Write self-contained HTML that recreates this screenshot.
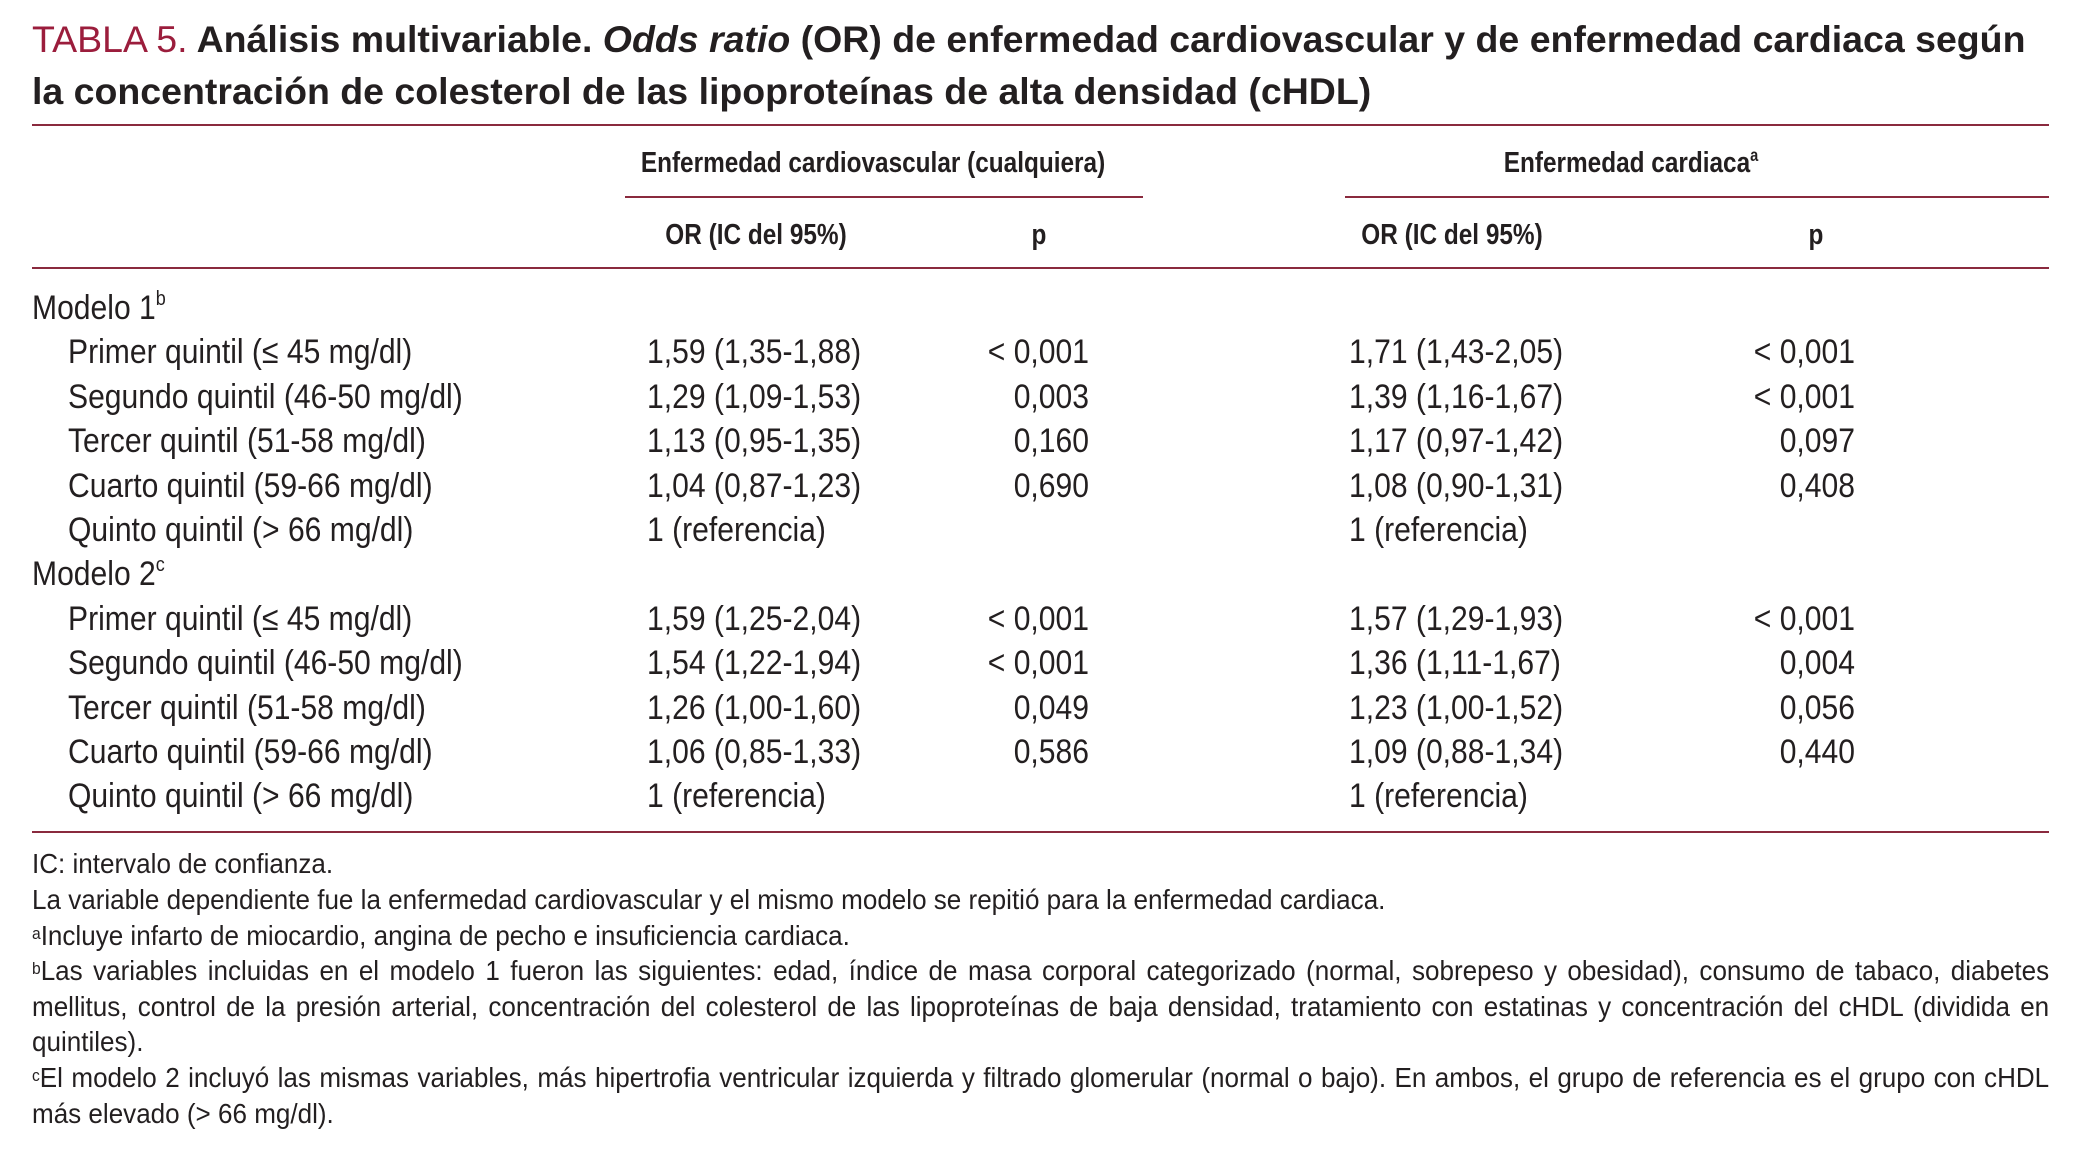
<!DOCTYPE html>
<html><head><meta charset="utf-8">
<style>
html,body{margin:0;padding:0;background:#fff;}
body{width:2079px;height:1150px;position:relative;overflow:hidden;color:#231f20;font-family:"Liberation Sans",sans-serif;}
.a{position:absolute;white-space:nowrap;line-height:1;}
.t{font-size:37px;font-weight:bold;transform-origin:left;transform:scaleX(1.013);}
.ln{position:absolute;height:2px;background:#8a2a3e;}
.h{font-weight:bold;font-size:29px;}
.r{font-size:34px;}
.l{transform-origin:left;transform:scaleX(0.885);}
.h.c{transform-origin:center;transform:translateX(-50%) scaleX(0.84);}
.r.rt{transform-origin:right;transform:translateX(-100%) scaleX(0.885);}
.f{position:absolute;left:32px;width:2169px;font-size:28px;line-height:35.6px;text-align:justify;white-space:nowrap;transform-origin:left;transform:scaleX(0.93);}
.f.j{text-align-last:justify;white-space:normal;}
sup{font-size:60%;vertical-align:top;position:relative;top:-2px;}
</style></head><body>
<div class="a t" style="left:32px;top:21px;"><span style="color:#9b1d3c;font-weight:normal;">TABLA 5.</span> Análisis multivariable. <i>Odds ratio</i> (OR) de enfermedad cardiovascular y de enfermedad cardiaca según</div>
<div class="a t" style="left:32px;top:73px;">la concentración de colesterol de las lipoproteínas de alta densidad (cHDL)</div>
<div class="ln" style="left:32px;width:2017px;top:124px;"></div>
<div class="a h c" style="left:873px;top:149px;">Enfermedad cardiovascular (cualquiera)</div>
<div class="a h c" style="left:1631px;top:149px;">Enfermedad cardiaca<sup>a</sup></div>
<div class="ln" style="left:625px;width:518px;top:196px;"></div>
<div class="ln" style="left:1345px;width:704px;top:196px;"></div>
<div class="a h c" style="left:756px;top:221px;">OR (IC del 95%)</div>
<div class="a h c" style="left:1039px;top:221px;">p</div>
<div class="a h c" style="left:1452px;top:221px;">OR (IC del 95%)</div>
<div class="a h c" style="left:1816px;top:221px;">p</div>
<div class="ln" style="left:32px;width:2017px;top:267px;"></div>
<div id="rows"></div>
<div class="ln" style="left:32px;width:2017px;top:831px;"></div>
<div class="f" style="top:846px;">IC: intervalo de confianza.</div>
<div class="f" style="top:882px;">La variable dependiente fue la enfermedad cardiovascular y el mismo modelo se repitió para la enfermedad cardiaca.</div>
<div class="f" style="top:918px;"><sup>a</sup>Incluye infarto de miocardio, angina de pecho e insuficiencia cardiaca.</div>
<div class="f j" style="top:953px;"><sup>b</sup>Las variables incluidas en el modelo 1 fueron las siguientes: edad, índice de masa corporal categorizado (normal, sobrepeso y obesidad), consumo de tabaco, diabetes</div>
<div class="f j" style="top:989px;">mellitus, control de la presión arterial, concentración del colesterol de las lipoproteínas de baja densidad, tratamiento con estatinas y concentración del cHDL (dividida en</div>
<div class="f" style="top:1024px;">quintiles).</div>
<div class="f j" style="top:1060px;"><sup>c</sup>El modelo 2 incluyó las mismas variables, más hipertrofia ventricular izquierda y filtrado glomerular (normal o bajo). En ambos, el grupo de referencia es el grupo con cHDL</div>
<div class="f" style="top:1096px;">más elevado (&gt; 66 mg/dl).</div>
<script>
const labels=["Modelo 1|b","Primer quintil (≤ 45 mg/dl)","Segundo quintil (46-50 mg/dl)","Tercer quintil (51-58 mg/dl)","Cuarto quintil (59-66 mg/dl)","Quinto quintil (> 66 mg/dl)","Modelo 2|c","Primer quintil (≤ 45 mg/dl)","Segundo quintil (46-50 mg/dl)","Tercer quintil (51-58 mg/dl)","Cuarto quintil (59-66 mg/dl)","Quinto quintil (> 66 mg/dl)"];
const or1=["","1,59 (1,35-1,88)","1,29 (1,09-1,53)","1,13 (0,95-1,35)","1,04 (0,87-1,23)","1 (referencia)","","1,59 (1,25-2,04)","1,54 (1,22-1,94)","1,26 (1,00-1,60)","1,06 (0,85-1,33)","1 (referencia)"];
const p1=["","< 0,001","0,003","0,160","0,690","","","< 0,001","< 0,001","0,049","0,586",""];
const or2=["","1,71 (1,43-2,05)","1,39 (1,16-1,67)","1,17 (0,97-1,42)","1,08 (0,90-1,31)","1 (referencia)","","1,57 (1,29-1,93)","1,36 (1,11-1,67)","1,23 (1,00-1,52)","1,09 (0,88-1,34)","1 (referencia)"];
const p2=["","< 0,001","< 0,001","0,097","0,408","","","< 0,001","0,004","0,056","0,440",""];
const host=document.getElementById('rows');
function add(txt,x,y,cls,name){
  const d=document.createElement('div');
  d.className='a r '+cls;
  d.style.left=x+'px';d.style.top=y+'px';
  if(txt.includes('|')){const [a,b]=txt.split('|');d.innerHTML=a+'<sup>'+b+'</sup>';}else d.textContent=txt;
  
  
  host.appendChild(d);
}
labels.forEach((l,i)=>{
  const y=291+i*44.4;
  const isModel=l.startsWith('Modelo');
  add(l,isModel?32:68,y,'l',isModel?'model-label':'row-label');
  if(or1[i])add(or1[i],647,y,'l','or-cardiovascular');
  if(p1[i])add(p1[i],1089,y,'rt','p-cardiovascular');
  if(or2[i])add(or2[i],1349,y,'l','or-cardiaca');
  if(p2[i])add(p2[i],1855,y,'rt','p-cardiaca');
});
</script>
</body></html>
